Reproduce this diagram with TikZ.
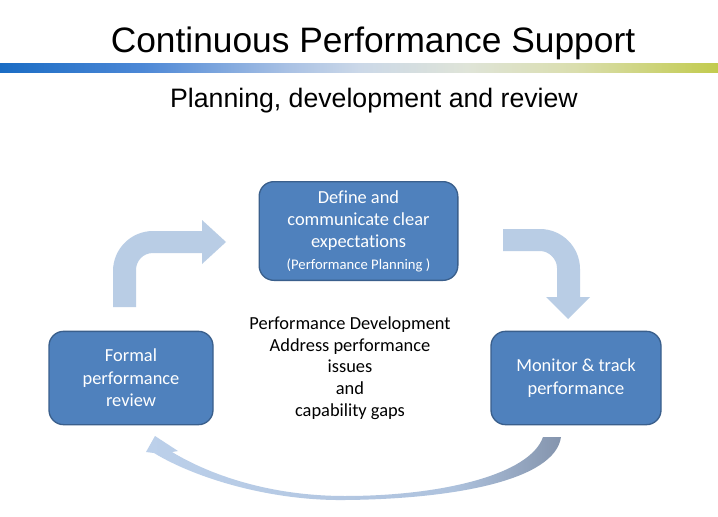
\documentclass[tikz,border=0pt]{standalone}
\usepackage{fontspec}
\setmainfont{Carlito}[Ligatures=NoCommon]
\newfontfamily\headfont{Liberation Sans}
\definecolor{boxblue}{HTML}{4F81BD}
\definecolor{boxline}{HTML}{3A5F8C}
\definecolor{arrowblue}{HTML}{B9CDE5}
\definecolor{barblue}{HTML}{1A6CC4}
\definecolor{barmid}{HTML}{4D88D6}
\definecolor{barpale}{HTML}{A9C1E4}
\definecolor{barlight}{HTML}{CBD8E8}
\definecolor{barcream}{HTML}{DFE4D8}
\definecolor{barlime}{HTML}{DADEAE}
\definecolor{bargreen}{HTML}{C2CB4E}
\definecolor{looplight}{HTML}{BCD0EA}
\definecolor{loopmid}{HTML}{AEC2DD}
\definecolor{loopdark}{HTML}{8494AD}
\pgfdeclarehorizontalshading{barshade}{100bp}{color(0bp)=(barblue); color(25bp)=(barblue); color(35bp)=(barmid); color(45bp)=(barpale); color(50bp)=(barlight); color(57.5bp)=(barcream); color(65bp)=(barlime); color(75bp)=(bargreen); color(100bp)=(bargreen)}
\pgfdeclarehorizontalshading{loopshade}{100bp}{color(0bp)=(looplight); color(25bp)=(looplight); color(62bp)=(loopmid); color(75bp)=(loopdark); color(100bp)=(loopdark)}
\begin{document}
    \begin{tikzpicture}
        [x=0.75pt, y=-0.75pt,
         stagebox/.style={draw=boxline, fill=boxblue, line width=1pt, rounded corners=11pt,
                          text=white, align=center, inner sep=0pt,
                          font=\fontsize{13.8}{16.8}\selectfont},
         plaintext/.style={align=center, inner sep=0pt, font=\fontsize{13.8}{16.2}\selectfont}]
        \useasboundingbox
            (0,0) rectangle (718,517);
        \fill
            [white] (0,0) rectangle (718,517);
        % heading and bar
        \node
            (title) at (373,53) [anchor=base, inner sep=0pt, font=\headfont\fontsize{26.5}{30}\selectfont] {Continuous Performance Support};
        \shade
            [shading=barshade] (0,64) rectangle (718,73);
        \node
            (subtitle) at (374,108) [anchor=base, inner sep=0pt, font=\headfont\fontsize{20}{24}\selectfont] {Planning, development and review};
        % the three stages
        \node
            (plan) at (358.5,231) [stagebox, minimum width=149pt, minimum height=74pt]
            {Define and\\communicate clear\\expectations\\[-1pt]{\fontsize{11}{13}\selectfont (Performance Planning )}};
        \node
            (review) at (131,378) [stagebox, minimum width=123pt, minimum height=70pt]
            {Formal\\performance\\review};
        \node
            (monitor) at (576,378) [stagebox, minimum width=127.5pt, minimum height=70pt]
            {Monitor \& track\\performance};
        \node
            (develop) at (350,368) [plaintext]
            {Performance Development\\Address performance\\issues\\and\\capability gaps};
        % block arrows
        \fill
            [arrowblue] (113,307) -- (113,271) .. controls (113,249) and (131,231) .. (153,231)
            -- (202,231) -- (202,220) -- (226,242) -- (202,264) -- (202,253) -- (153,253)
            .. controls (143,253) and (136,261) .. (136,270) -- (136,307) -- cycle;
        \fill
            [arrowblue] (503,229) -- (540,229) .. controls (562,229) and (580,247) .. (580,269)
            -- (580,297) -- (590,297) -- (568,319) -- (546,297) -- (557,297) -- (557,268)
            .. controls (557,259) and (549,251) .. (540,251) -- (503,251) -- cycle;
        \shade
            [shading=loopshade] (561,437) .. controls (555,480) and (455,499) .. (345,500)
            .. controls (270,501) and (195,478) .. (154,453) -- (146,452) -- (155,436)
            -- (178,451) -- (172,452) .. controls (210,475) and (270,496) .. (345,496)
            .. controls (440,496) and (530,475) .. (543,437) -- cycle;
    \end{tikzpicture}
\end{document}
